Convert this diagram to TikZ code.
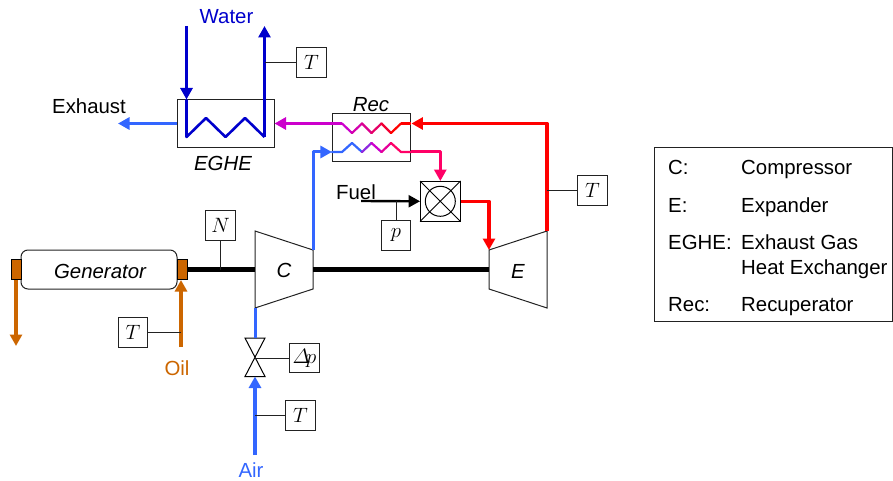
\documentclass[tikz,border=0pt]{standalone}
\usepackage{amsmath}
\usepackage{fontspec}
\setmainfont{Liberation Sans}
\usetikzlibrary{arrows.meta}
\definecolor{airblue}{HTML}{3366FF}
\definecolor{watblue}{HTML}{0000CC}
\definecolor{purp}{HTML}{CC00CC}
\definecolor{oilc}{HTML}{CC6600}
\definecolor{hotp}{HTML}{FF0066}
\definecolor{hotr}{HTML}{FF0000}
\definecolor{frame}{HTML}{222222}
\tikzset{
  txt/.style={inner sep=0pt,font=\fontsize{20.4}{24}\selectfont},
  itxt/.style={txt,font=\fontsize{20.4}{24}\selectfont\itshape},
  sensor/.style={draw=frame,line width=0.9pt,fill=white,minimum width=29.5pt,minimum height=29.5pt,inner sep=0pt,font=\huge},
  box/.style={draw=frame,line width=1pt,inner sep=0pt},
  tap/.style={draw=frame,line width=1pt},
  flow/.style={line width=3.4pt,-{Triangle[length=11.5pt,width=12pt]}},
  thinflow/.style={line width=3pt,-{Triangle[length=11.5pt,width=12pt]}},
  pipe/.style={line width=3pt},
  coil/.style={line width=2.2pt,line cap=round,line join=round},
}
\begin{document}
\begin{tikzpicture}[x=1pt,y=-1pt]
\useasboundingbox (0,0) rectangle (893,481);
% coordinates for free ends and turning points
\coordinate (watIn) at (186.5,26);
\coordinate (watInTip) at (186.5,99.5);
\coordinate (watOutTip) at (264.5,26);
\coordinate (exTip) at (118,123.5);
\coordinate (airStart) at (255,455);
\coordinate (oilStart) at (181,347);
\coordinate (oilTip) at (181,280);
\coordinate (oilEnd) at (16,346);
\coordinate (fuelStart) at (361,201);
% equipment
\node[box,minimum width=97pt,minimum height=48.5pt] (egbox) at (225.5,123.7) {};
\node[box,minimum width=78.5pt,minimum height=48.5pt] (recbox) at (371.7,137.7) {};
\node[draw=frame,line width=1pt,rounded corners=7pt,minimum width=156pt,minimum height=39pt,inner sep=0pt] (gen) at (99,269.5) {};
\node[itxt] (genlab) at (100,271) {Generator};
\node[draw=black,line width=1pt,fill=oilc,minimum width=10pt,minimum height=19.5pt,inner sep=0pt] (bl) at (16,269.5) {};
\node[draw=black,line width=1pt,fill=oilc,minimum width=10pt,minimum height=19.5pt,inner sep=0pt] (br) at (182,269.5) {};
\coordinate (ca) at (255,231); \coordinate (cb) at (313,250);
\coordinate (cc) at (313,289); \coordinate (cd) at (255,308);
\coordinate (ea) at (489,250); \coordinate (eb) at (547,231);
\coordinate (ec) at (547,308); \coordinate (ed) at (489,289);
\draw[frame,line width=1pt,line join=miter] (ca) -- (cb) -- (cc) -- (cd) -- cycle;
\draw[frame,line width=1pt,line join=miter] (ea) -- (eb) -- (ec) -- (ed) -- cycle;
\node[itxt] (clab) at (284,270) {C};
\node[itxt] (elab) at (518,271) {E};
% shaft
\coordinate (shL) at (255,269.5); \coordinate (shR) at (313,269.5); \coordinate (shE) at (489,269.5);
\draw[line width=5.5pt] (br.east) -- (shL);
\draw[line width=5.5pt] (shR) -- (shE);
% burner
\node[draw=black,line width=1pt,minimum size=39.5pt,inner sep=0pt] (burn) at (440.3,201.3) {};
\node[draw=black,line width=1pt,circle,minimum size=30pt,inner sep=0pt] (flame) at (440.3,201.3) {};
\draw[black,line width=0.9pt] (burn.north west) -- (burn.south east) (burn.north east) -- (burn.south west);
% valve
\coordinate (vTopL) at (245,338); \coordinate (vTopR) at (265,338);
\coordinate (vMid) at (255,357);
\coordinate (vBotL) at (245,376.5); \coordinate (vBotR) at (265,376.5);
\draw[black,line width=1pt,line join=miter] (vTopL) -- (vTopR) -- (vBotL) -- (vBotR) -- cycle;
% water circuit
\coordinate (z0) at (186.5,137); \coordinate (z1) at (206,118); \coordinate (z2) at (225.5,137);
\coordinate (z3) at (245,118); \coordinate (z4) at (264.5,137);
\draw[watblue,line width=2.6pt,line join=round] (watInTip) -- (z0) -- (z1) -- (z2) -- (z3) -- (z4);
\draw[watblue,thinflow] (watIn) -- (watInTip);
\draw[watblue,flow] (z4) -- (watOutTip);
% exhaust side
\draw[airblue,flow] (egbox.west |- exTip) -- (exTip);
\coordinate (recTopIn) at (recbox.west |- exTip);
\draw[purp,flow] (recTopIn) -- (egbox.east |- exTip);
% recuperator hot coil
\coordinate (rt0) at (342,123.5); \coordinate (rt1) at (352,133); \coordinate (rt2) at (362,123.5);
\coordinate (rt3) at (371.5,133); \coordinate (rt4) at (381.5,123.5); \coordinate (rt5) at (391,133);
\coordinate (rt6) at (401,123.5);
\draw[purp,pipe] (recTopIn) -- (rt0);
\draw[coil,purp] (rt0) -- (rt1);
\draw[coil,purp!85!hotr] (rt1) -- (rt2);
\draw[coil,purp!70!hotr] (rt2) -- (rt3);
\draw[coil,purp!50!hotr] (rt3) -- (rt4);
\draw[coil,purp!25!hotr] (rt4) -- (rt5);
\draw[coil,hotr] (rt5) -- (rt6);
\coordinate (recTopOut) at (recbox.east |- exTip);
\draw[hotr,pipe] (rt6) -- (recTopOut);
% recuperator cold coil
\coordinate (rb0) at (342,152); \coordinate (rb1) at (352,143); \coordinate (rb2) at (362,152);
\coordinate (rb3) at (371.5,143); \coordinate (rb4) at (381.5,152); \coordinate (rb5) at (391,143);
\coordinate (rb6) at (401,152);
\coordinate (recBotIn) at (recbox.west |- rb0);
\coordinate (recBotOut) at (recbox.east |- rb0);
\draw[coil,airblue] (recBotIn) -- (rb0) -- (rb1) -- (rb2);
\draw[coil,airblue!40!purp] (rb2) -- (rb3);
\draw[coil,purp] (rb3) -- (rb4);
\draw[coil,purp!50!hotp] (rb4) -- (rb5);
\draw[coil,hotp] (rb5) -- (rb6) -- (recBotOut);
% process lines
\coordinate (cOutTurn) at (cb |- rb0);
\draw[airblue,thinflow,line join=round] (cb) -- (cOutTurn) -- (recBotIn);
\coordinate (burnInTurn) at (burn.north |- rb0);
\draw[hotp,thinflow,line join=round] (recBotOut) -- (burnInTurn) -- (burn.north);
\draw[black,line width=2.4pt,-{Triangle[length=11.5pt,width=12pt]}] (fuelStart) -- (burn.west);
\coordinate (burnOutTurn) at (489,201.3);
\draw[hotr,flow,line join=round] (burn.east) -- (burnOutTurn) -- (ea);
\coordinate (eOutTurn) at (eb |- exTip);
\draw[hotr,flow,line join=round] (eb) -- (eOutTurn) -- (recTopOut);
% air
\draw[airblue,pipe] (cd) -- (vTopL -| cd);
\coordinate (vBot) at (vMid |- vBotL);
\draw[airblue,line width=4pt,-{Triangle[length=11.5pt,width=12pt]}] (airStart) -- (vBot);
% oil
\draw[oilc,flow] (oilStart) -- (oilTip);
\draw[oilc,flow] (bl.south) -- (oilEnd);
% sensors
\node[sensor] (tw) at (311.5,62.5) {$T$};
\node[sensor] (te) at (592.5,190.5) {$T$};
\node[sensor] (tair) at (300.5,415.5) {$T$};
\node[sensor] (toil) at (133,332.5) {$T$};
\node[sensor] (sN) at (220.5,225.5) {$N$};
\node[sensor] (sp) at (396,235.5) {$p$};
\node[sensor] (sdp) at (304.5,358) {$\varDelta\mkern-3mu p$};
\draw[tap] (tw.west) -- (watOutTip |- tw.west);
\draw[tap] (te.west) -- (eb |- te.west);
\draw[tap] (tair.west) -- (airStart |- tair.west);
\draw[tap] (toil.east) -- (oilStart |- toil.east);
\coordinate (shN) at (sN.south |- shL);
\draw[tap] (sN.south) -- (shN);
\coordinate (fuelTap) at (sp.north |- fuelStart);
\draw[tap] (sp.north) -- (fuelTap);
\draw[tap] (sdp.west) -- (vMid |- sdp.west);
% labels
\node[txt,text=watblue] (lwater) at (226.5,17) {Water};
\node[txt] (lexh) at (89,106) {Exhaust};
\node[itxt] (lrec) at (371,104.5) {Rec};
\node[itxt] (legh) at (223,163.5) {EGHE};
\node[txt] (lfuel) at (356,192) {Fuel};
\node[txt,text=oilc] (loil) at (177,368) {Oil};
\node[txt,text=airblue] (lair) at (251,470) {Air};
% legend
\node[draw=frame,line width=1pt,minimum width=238.5pt,minimum height=174.5pt,inner sep=0pt] (legend) at (773.5,234.7) {};
\node[txt,anchor=base west] (k1) at (668,175) {C:};
\node[txt,anchor=base west] (v1) at (741,175) {Compressor};
\node[txt,anchor=base west] (k2) at (668,212) {E:};
\node[txt,anchor=base west] (v2) at (741,212) {Expander};
\node[txt,anchor=base west] (k3) at (668,249) {EGHE:};
\node[txt,anchor=base west] (v3) at (741,249) {Exhaust Gas};
\node[txt,anchor=base west] (v3b) at (741,274) {Heat Exchanger};
\node[txt,anchor=base west] (k4) at (668,311) {Rec:};
\node[txt,anchor=base west] (v4) at (741,311) {Recuperator};
\end{tikzpicture}
\end{document}
